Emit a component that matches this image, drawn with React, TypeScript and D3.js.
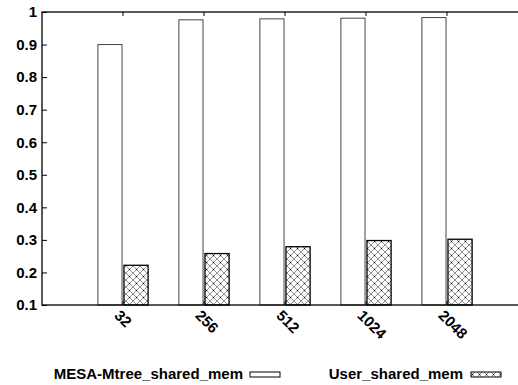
import React, { useEffect, useRef } from "react"
import * as d3 from "d3"

const categories = ["32", "256", "512", "1024", "2048"]
const mesaValues = [0.9, 0.976, 0.979, 0.981, 0.983]
const userValues = [0.222, 0.258, 0.279, 0.298, 0.302]
const yTicks = [0.1, 0.2, 0.3, 0.4, 0.5, 0.6, 0.7, 0.8, 0.9, 1]
const seriesNames = ["MESA-Mtree_shared_mem", "User_shared_mem"]

const W = 518
const H = 385
const FONT = "'Liberation Sans', Arial, sans-serif"

export default function App() {
	const ref = useRef<SVGSVGElement>(null)

	useEffect(() => {
		const svg = d3.select(ref.current)
		svg.selectAll("*").remove()

		const top = 12
		const bottom = 305
		const left = 42

		// index scale, gnuplot style range [-1:5]
		const x = d3.scaleLinear().domain([-1, 5]).range([left, 528])
		const y = d3.scaleLinear().domain([0.1, 1]).range([bottom, top])

		// crosshatch pattern
		const defs = svg.append("defs")
		const pat = defs
			.append("pattern")
			.attr("id", "xhatch")
			.attr("patternUnits", "userSpaceOnUse")
			.attr("width", 7)
			.attr("height", 7)
		pat.append("rect").attr("width", 7).attr("height", 7).attr("fill", "#fff")
		pat
			.append("path")
			.attr("d", "M0,0L7,7M7,0L0,7")
			.attr("stroke", "#222")
			.attr("stroke-width", 0.5)
		pat
			.append("circle")
			.attr("cx", 3.5)
			.attr("cy", 3.5)
			.attr("r", 0.7)
			.attr("fill", "#000")

		const g = svg.append("g")

		// bars
		const bw = 0.298
		const gap = 0.012
		categories.forEach((c, i) => {
			g.append("rect")
				.attr("x", x(i - gap - bw))
				.attr("y", y(mesaValues[i]))
				.attr("width", x(bw) - x(0))
				.attr("height", bottom - y(mesaValues[i]))
				.attr("fill", "#fff")
				.attr("stroke", "#444")
				.attr("stroke-width", 1)
			g.append("rect")
				.attr("x", x(i + gap))
				.attr("y", y(userValues[i]))
				.attr("width", x(bw) - x(0))
				.attr("height", bottom - y(userValues[i]))
				.attr("fill", "url(#xhatch)")
				.attr("stroke", "#000")
				.attr("stroke-width", 1.3)
		})

		// frame
		g.append("rect")
			.attr("x", left)
			.attr("y", top)
			.attr("width", x(5) - left)
			.attr("height", bottom - top)
			.attr("fill", "none")
			.attr("stroke", "#000")
			.attr("stroke-width", 1.3)

		// y axis
		const yAxis = d3
			.axisLeft(y)
			.tickValues(yTicks)
			.tickSize(-5)
			.tickPadding(5)
			.tickFormat(d => d3.format("")(+d))
		const ya = g
			.append("g")
			.attr("transform", `translate(${left},0)`)
			.call(yAxis)
		ya.select(".domain").remove()
		ya.selectAll("line").attr("stroke-width", 1)
		ya.selectAll("text")
			.style("font-family", FONT)
			.style("font-weight", "bold")
			.style("font-size", "15px")
			.attr("fill", "#000")

		// x ticks (bottom and mirrored top)
		categories.forEach((c, i) => {
			g.append("line")
				.attr("x1", x(i)).attr("x2", x(i))
				.attr("y1", bottom).attr("y2", bottom - 4)
				.attr("stroke", "#000")
			g.append("line")
				.attr("x1", x(i)).attr("x2", x(i))
				.attr("y1", top).attr("y2", top + 4)
				.attr("stroke", "#000")
			g.append("text")
				.attr("transform", `translate(${x(i) - 2},${bottom + 4}) rotate(45)`)
				.attr("dy", "0.7em")
				.style("font-family", FONT)
				.style("font-weight", "bold")
				.style("font-size", "15px")
				.text(c)
		})

		// legend
		const legend = svg.append("g")
		const items = [
			{ name: seriesNames[0], tx: 243, bx: 250, fill: "#fff" },
			{ name: seriesNames[1], tx: 463, bx: 471, fill: "url(#xhatch)" },
		]
		items.forEach(it => {
			legend
				.append("text")
				.attr("x", it.tx)
				.attr("y", 379)
				.attr("text-anchor", "end")
				.style("font-family", FONT)
				.style("font-weight", "bold")
				.style("font-size", "15px")
				.text(it.name)
			legend
				.append("rect")
				.attr("x", it.bx)
				.attr("y", 372)
				.attr("width", 30)
				.attr("height", 5)
				.attr("fill", it.fill)
				.attr("stroke", "#000")
				.attr("stroke-width", 1)
		})
	}, [])

	return (
		<div style={{ position: "fixed", top: 0, left: 0 }}>
			<svg ref={ref} width={W} height={H} style={{ display: "block", background: "#fff" }} />
		</div>
	)
}
